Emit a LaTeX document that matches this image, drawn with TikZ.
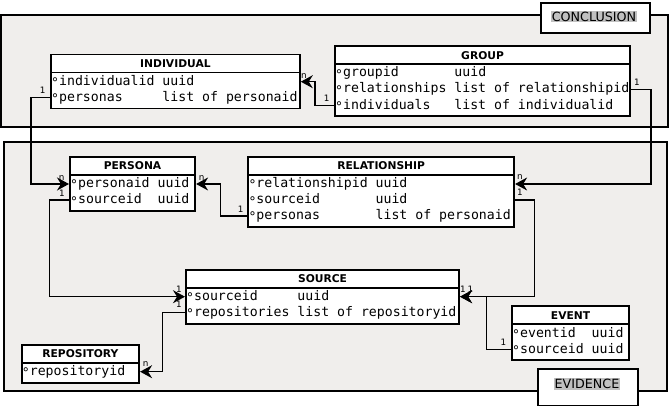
\documentclass[tikz,border=0pt]{standalone}
\usepackage{fontspec}
\setmainfont{DejaVu Sans}
\newfontfamily\attrfont{DejaVu Sans Mono}
\usepackage{tikz}
\usetikzlibrary{positioning,arrows.meta}
\definecolor{areafill}{RGB}{240,238,236}
\definecolor{tagfill}{RGB}{192,192,192}
\newcommand{\bul}{\raisebox{-2.2pt}{°}}

\begin{document}
\begin{tikzpicture}[x=1pt, y=-1pt, >={Stealth[length=12pt, width=13pt, inset=4pt]},
	area/.style={draw, line width=1.6pt, fill=areafill},
	areatag/.style={draw, line width=1.6pt, fill=white, anchor=north west, inner sep=0pt},
	tagtext/.style={fill=tagfill, inner sep=1pt, font=\fontsize{12.7}{14}\selectfont},
	ehead/.style={draw, line width=1.8pt, fill=white, anchor=north west, minimum height=18pt, inner sep=0pt, font=\bfseries\fontsize{10.7}{12}\selectfont},
	ebody/.style={draw, line width=1.8pt, fill=white, anchor=north west, inner sep=0pt},
	erow/.style={anchor=west, inner sep=0pt, font=\attrfont\fontsize{13.2}{16}\selectfont},
	link/.style={->, line width=1.4pt},
	mult/.style={inner sep=0pt, font=\fontsize{8.8}{9}\selectfont}]
	\useasboundingbox (0,0) rectangle (671,406);

	% Areas with their tags
	\draw[area] (1,15) rectangle (668,127);
	\draw[area] (4,142) rectangle (667,391);
	\node[areatag, minimum width=109pt, minimum height=30pt] (conctag) at (540,2) {};
	\node[tagtext] (conclabel) at (594,16.5) {CONCLUSION};
	\node[areatag, minimum width=100pt, minimum height=37pt] (evidtag) at (537,368) {};
	\node[tagtext] (evidlabel) at (587,384) {EVIDENCE};

	% Conclusion tables
	\node[ehead, minimum width=249pt] (individual) at (50,53.7) {INDIVIDUAL};
	\node[ebody, minimum width=249pt, minimum height=36pt] (individual-body) at (50,71.7) {};
	\node[erow] (ind-id) at (51,81.7) {\bul individualid~uuid};
	\node[erow] (ind-per) at (51,97.7) {\bul personas~~~~~list of personaid};

	\node[ehead, minimum width=295.3pt] (group) at (334,45.3) {GROUP};
	\node[ebody, minimum width=295.3pt, minimum height=52pt] (group-body) at (334,63.3) {};
	\node[erow] (grp-id) at (335,73.3) {\bul groupid~~~~~~~uuid};
	\node[erow] (grp-rel) at (335,89.3) {\bul relationships list of relationshipid};
	\node[erow] (grp-ind) at (335,105.3) {\bul individuals~~~list of individualid};

	% Evidence tables
	\node[ehead, minimum width=125.3pt] (persona) at (69,156) {PERSONA};
	\node[ebody, minimum width=125.3pt, minimum height=36pt] (persona-body) at (69,174) {};
	\node[erow] (per-id) at (70,184) {\bul personaid uuid};
	\node[erow] (per-src) at (70,200) {\bul sourceid~~uuid};

	\node[ehead, minimum width=266pt] (relationship) at (247.3,156) {RELATIONSHIP};
	\node[ebody, minimum width=266pt, minimum height=52pt] (relationship-body) at (247.3,174) {};
	\node[erow] (rel-id) at (248.3,184) {\bul relationshipid uuid};
	\node[erow] (rel-src) at (248.3,200) {\bul sourceid~~~~~~~uuid};
	\node[erow] (rel-per) at (248.3,216) {\bul personas~~~~~~~list of personaid};

	\node[ehead, minimum width=273.3pt] (source) at (185,268.7) {SOURCE};
	\node[ebody, minimum width=273.3pt, minimum height=36pt] (source-body) at (185,286.7) {};
	\node[erow] (src-id) at (186,296.7) {\bul sourceid~~~~~uuid};
	\node[erow] (src-rep) at (186,312.7) {\bul repositories list of repositoryid};

	\node[ehead, minimum width=117.6pt] (repository) at (20.7,343.7) {REPOSITORY};
	\node[ebody, minimum width=117.6pt, minimum height=20pt] (repository-body) at (20.7,361.7) {};
	\node[erow] (rep-id) at (21.7,371.7) {\bul repositoryid};

	\node[ehead, minimum width=117.3pt] (event) at (511,305.3) {EVENT};
	\node[ebody, minimum width=117.3pt, minimum height=36pt] (event-body) at (511,323.3) {};
	\node[erow] (evt-id) at (512,333.3) {\bul eventid~~uuid};
	\node[erow] (evt-src) at (512,349.3) {\bul sourceid uuid};

	% References between tables
	\draw[link] (ind-per -| individual-body.west) -- ++(-19,0) |- (per-id -| persona-body.west);
	\draw[link] (grp-ind -| group-body.west) -- ++(-19,0) |- (ind-id -| individual-body.east);
	\draw[link] (grp-rel -| group-body.east) -- ++(20,0) |- (rel-id -| relationship-body.east);
	\draw[link] (rel-per -| relationship-body.west) -- ++(-26.6,0) |- (per-id -| persona-body.east);
	\draw[link] (per-src -| persona-body.west) -- ++(-19.7,0) |- (src-id -| source-body.west);
	\draw[link] (src-rep -| source-body.west) -- ++(-22.7,0) |- (rep-id -| repository-body.east);
	\draw[link] (rel-src -| relationship-body.east) -- ++(19.4,0) |- (src-id -| source-body.east);
	\draw[link] (evt-src -| event-body.west) -- ++(-24.3,0) |- (src-id -| source-body.east);

	% Multiplicities
	\node[mult] (m1s) at (42.7,90) {1};
	\node[mult] (m1e) at (61.7,178) {n};
	\node[mult] (m2s) at (326.7,98) {1};
	\node[mult] (m2e) at (304,76) {n};
	\node[mult] (m3s) at (637,82) {1};
	\node[mult] (m3e) at (520,177) {n};
	\node[mult] (m4s) at (240.7,209) {1};
	\node[mult] (m4e) at (201.7,178) {n};
	\node[mult] (m5s) at (62,193.5) {1};
	\node[mult] (m5e) at (179,289.5) {1};
	\node[mult] (m6s) at (179,304.5) {1};
	\node[mult] (m6e) at (145.7,364) {n};
	\node[mult] (m7s) at (520,192.5) {1};
	\node[mult] (m7e) at (463,289) {1};
	\node[mult] (m8s) at (503.3,342) {1};
	\node[mult] (m8e) at (470.5,289) {1};
\end{tikzpicture}
\end{document}
